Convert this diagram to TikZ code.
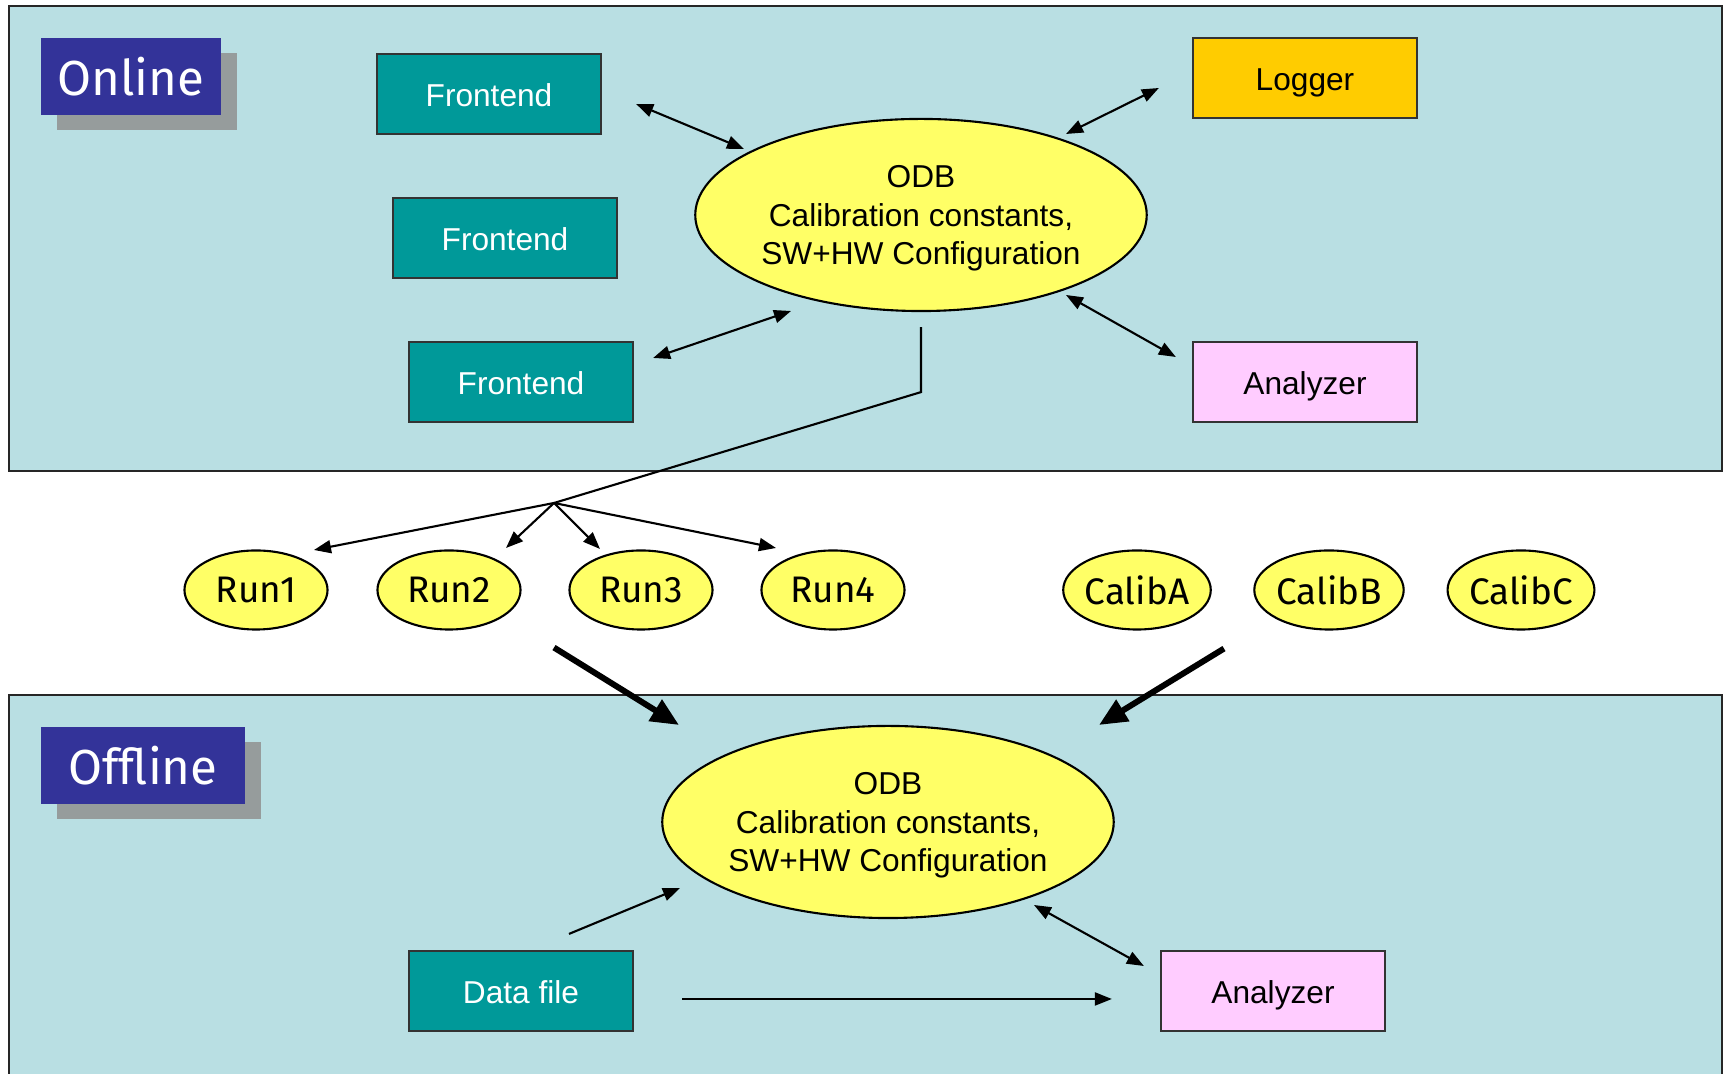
\documentclass[tikz,border=0pt]{standalone}
\usepackage{fontspec}
\setmainfont{Liberation Sans}
\newfontfamily\handfont{Fira Sans}
\usetikzlibrary{arrows.meta,shapes.geometric,shadows}
\definecolor{panelblue}{RGB}{185,223,227}
\definecolor{tagblue}{RGB}{51,51,153}
\definecolor{tagshadow}{RGB}{150,156,156}
\definecolor{feteal}{RGB}{0,153,153}
\definecolor{loggerorange}{RGB}{255,204,0}
\definecolor{anapink}{RGB}{255,204,255}
\definecolor{odbyellow}{RGB}{255,255,102}
\tikzset{
  panel/.style={draw=black!85, line width=0.7pt, fill=panelblue},
  tagbox/.style={fill=tagblue, text=white, minimum height=0.77cm, inner sep=0pt,
    font=\handfont\fontsize{14}{16}\selectfont,
    drop shadow={shadow xshift=0.16cm, shadow yshift=-0.15cm, fill=tagshadow, opacity=1}},
  febox/.style={draw=black!80, line width=0.6pt, fill=feteal, text=white,
    minimum width=2.24cm, minimum height=0.8cm, inner sep=0pt,
    text height=0.73em, text depth=0pt, font=\fontsize{9}{11}\selectfont},
  odbell/.style={ellipse, draw=black, line width=0.6pt, fill=odbyellow,
    minimum width=4.47cm, minimum height=1.92cm, inner sep=0pt, align=center,
    text depth=0pt, font=\fontsize{9}{11}\selectfont},
  runell/.style={ellipse, draw=black, line width=0.6pt, fill=odbyellow,
    minimum width=1.43cm, minimum height=0.79cm, inner sep=0pt,
    font=\handfont\fontsize{10.5}{12}\selectfont},
  thinline/.style={line width=0.6pt},
  sgl/.style={thinline, -{Triangle[length=0.17cm,width=0.13cm]}},
  dbl/.style={thinline, {Triangle[length=0.17cm,width=0.13cm]}-{Triangle[length=0.17cm,width=0.13cm]}},
  fat/.style={line width=1.7pt, -{Triangle[length=0.28cm,width=0.24cm]}}
}
\begin{document}
\begin{tikzpicture}[x=0.01cm,y=-0.01cm]
\useasboundingbox (0,0) rectangle (1726,1074);
% panels
\draw[panel] (9,6) rectangle (1722,471);
\draw[panel] (9,695) rectangle (1722,1090);
\node[tagbox, minimum width=1.8cm] (online) at (131,76.5) {Online};
\node[tagbox, minimum width=2.04cm] (offline) at (143,765.5) {Offline};

% online part
\node[febox] (fe1) at (489,94) {Frontend};
\node[febox] (fe2) at (505,238) {Frontend};
\node[febox] (fe3) at (521,382) {Frontend};
\node[febox, fill=loggerorange, text=black] (logger) at (1305,78) {Logger};
\node[febox, fill=anapink, text=black] (anaon) at (1305,382) {Analyzer};
\node[odbell] (odbon) at (921,215) {ODB\\Calibration constants,\\SW+HW Configuration};
\draw[dbl] ([shift={(34,10)}]fe1.east) -- ([shift={(-177,-66)}]odbon.center);
\draw[dbl] ([shift={(-33,10)}]logger.west) -- ([shift={(145,-81)}]odbon.center);
\draw[dbl] ([shift={(19,-24)}]fe3.east) -- ([shift={(-130,96)}]odbon.center);
\draw[dbl] ([shift={(-16,-25)}]anaon.west) -- ([shift={(145,80)}]odbon.center);

% runs and calibrations
\foreach \nm/\x in {Run1/256, Run2/449, Run3/641, Run4/833, CalibA/1137, CalibB/1329, CalibC/1521}
  \node[runell] (\nm) at (\x,590) {\nm};
\coordinate (split) at (554,503);
\draw[thinline] ([shift={(0,15)}]odbon.south) -- ++(0,65) -- (split);
\draw[sgl] (split) -- ([shift={(58,-40)}]Run1.center);
\draw[sgl] (split) -- ([shift={(57,-42)}]Run2.center);
\draw[sgl] (split) -- ([shift={(-41,-41)}]Run3.center);
\draw[sgl] (split) -- ([shift={(-57,-42)}]Run4.center);

% offline part
\node[odbell] (odboff) at (888,822) {ODB\\Calibration constants,\\SW+HW Configuration};
\node[febox] (dfile) at (521,991) {Data file};
\node[febox, fill=anapink, text=black] (anaoff) at (1273,991) {Analyzer};
\draw[fat] ([shift={(105,17)}]Run2.south) -- ([shift={(-209,-97)}]odboff.center);
\draw[fat] ([shift={(87,18)}]CalibA.south) -- ([shift={(211,-97)}]odboff.center);
\draw[sgl] ([shift={(48,-16)}]dfile.north) -- ([shift={(-208,66)}]odboff.center);
\draw[sgl] ([shift={(48,8)}]dfile.east) -- ([shift={(-48,8)}]anaoff.west);
\draw[dbl] ([shift={(146,83)}]odboff.center) -- ([shift={(-16,-25)}]anaoff.west);
\end{tikzpicture}
\end{document}
